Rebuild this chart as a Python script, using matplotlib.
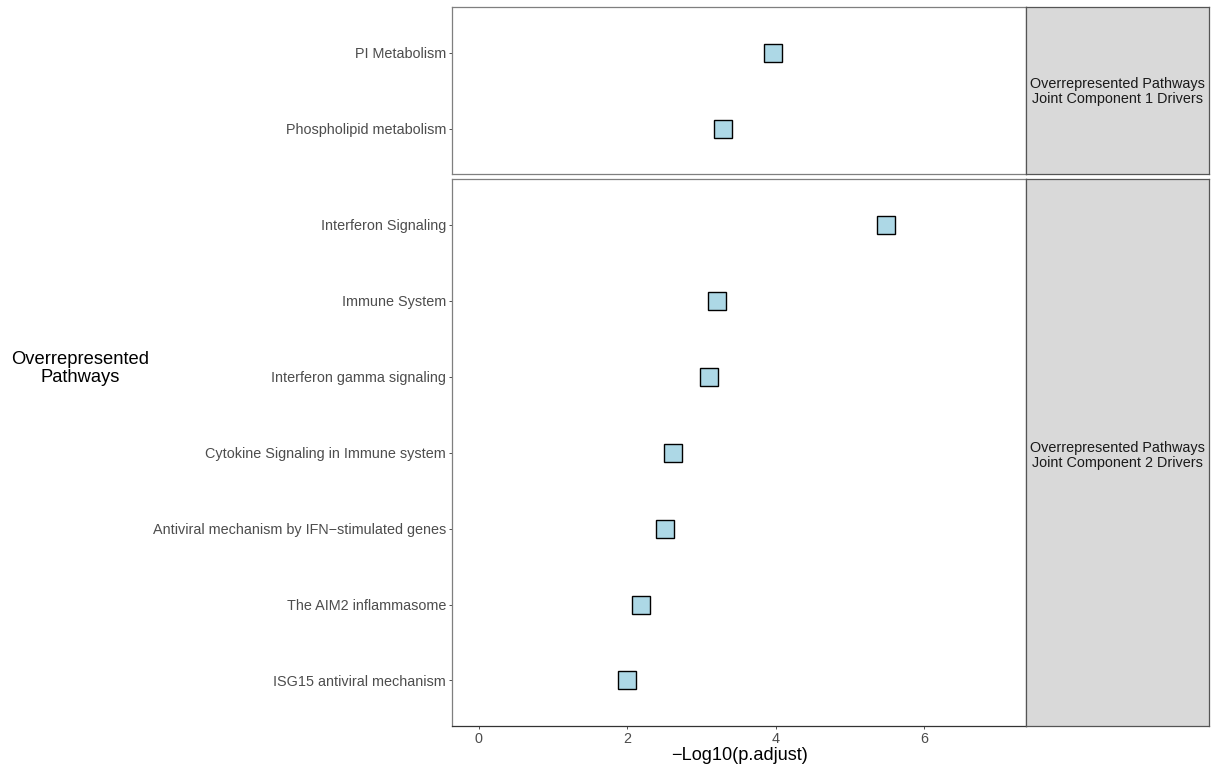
import matplotlib.pyplot as plt

plt.rcParams['font.family'] = ['Liberation Sans', 'DejaVu Sans']

# component 1 drivers
top_paths = ['PI Metabolism', 'Phospholipid metabolism']
top_vals = [3.96, 3.29]

# component 2 drivers
bot_paths = ['Interferon Signaling', 'Immune System', 'Interferon gamma signaling',
             'Cytokine Signaling in Immune system',
             'Antiviral mechanism by IFN\u2212stimulated genes',
             'The AIM2 inflammasome', 'ISG15 antiviral mechanism']
bot_vals = [5.49, 3.21, 3.10, 2.61, 2.51, 2.19, 1.99]

strip_labels = ['Overrepresented Pathways\nJoint Component 1 Drivers',
                'Overrepresented Pathways\nJoint Component 2 Drivers']
xticks = [0, 2, 4, 6]

W, H = 1211, 769
fig = plt.figure(figsize=(W / 100, H / 100), dpi=100)


def box(x0, y0, x1, y1):
    # pixel coords from top-left -> figure fraction
    return [x0 / W, 1 - y1 / H, (x1 - x0) / W, (y1 - y0) / H]


px0, px1 = 452.5, 1026
sx1 = 1208.5
panels = [(7.5, 174.0, top_paths, top_vals, strip_labels[0]),
          (179.3, 726.0, bot_paths, bot_vals, strip_labels[1])]

for i, (y0, y1, paths, vals, slab) in enumerate(panels):
    ax = fig.add_axes(box(px0, y0, px1, y1))
    n = len(paths)
    ypos = list(range(n))[::-1]
    ax.plot(vals, ypos, linestyle='none', marker='s', ms=12.3,
            mfc='#ADD8E6', mec='black', mew=1.0, zorder=3)
    ax.set_ylim(-0.6, n - 1 + 0.6)
    ax.set_xlim(-0.355, 7.37)
    ax.set_yticks(ypos)
    ax.set_yticklabels(paths, fontsize=10.4, color='#4D4D4D')
    ax.tick_params(axis='both', length=2.5, width=0.6, color='#333333', pad=2)
    for s in ax.spines.values():
        s.set_color('#7F7F7F')
        s.set_linewidth(0.9)
    if i == 0:
        ax.set_xticks([])
    else:
        ax.set_xticks(xticks)
        ax.set_xticklabels([str(t) for t in xticks], fontsize=10.4, color='#4D4D4D')
        ax.spines['bottom'].set_color('#333333')
        ax.set_xlabel('\u2212Log10(p.adjust)', fontsize=13.1, color='black', labelpad=0.5)

    # facet strip
    sax = fig.add_axes(box(px1, y0, sx1, y1))
    sax.set_facecolor('#D9D9D9')
    sax.set_xticks([])
    sax.set_yticks([])
    for s in sax.spines.values():
        s.set_color('#555555')
        s.set_linewidth(0.9)
    sax.text(0.5, 0.495, slab, ha='center', va='center', fontsize=10.4,
             color='#1A1A1A', transform=sax.transAxes, linespacing=1.05)

fig.text(80 / W, 1 - 368.5 / H, 'Overrepresented\nPathways', ha='center', va='center',
         fontsize=13.2, color='black', linespacing=1.12)

fig.savefig('out.png', dpi=100)
